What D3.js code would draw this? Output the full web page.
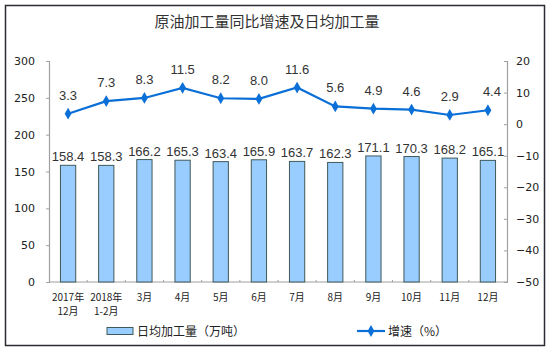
<!DOCTYPE html>
<html>
<head>
<meta charset="utf-8">
<script src="https://cdn.jsdelivr.net/npm/d3@7"></script>
<style>
  html, body { margin: 0; padding: 0; background: #fff; }
  text { font-family: "Liberation Sans", Arial, "Noto Sans CJK SC", sans-serif; }
</style>
</head>
<body>
<div id="chart"></div>
<script>
// --- Data ---
const categories = ['2017年|12月', '2018年|1-2月', '3月', '4月', '5月', '6月', '7月', '8月', '9月', '10月', '11月', '12月'];
const dailyOutput = [158.4, 158.3, 166.2, 165.3, 163.4, 165.9, 163.7, 162.3, 171.1, 170.3, 168.2, 165.1];
const growthRate = [3.3, 7.3, 8.3, 11.5, 8.2, 8.0, 11.6, 5.6, 4.9, 4.6, 2.9, 4.4];
const leftTicks = [0, 50, 100, 150, 200, 250, 300];
const rightTicks = [-50, -40, -30, -20, -10, 0, 10, 20];

const width = 550, height = 351;
const plot = { left: 49, right: 507, top: 61, bottom: 282 };
const cjk = '"Noto Sans CJK SC", sans-serif';

const svg = d3.select('#chart').append('svg')
  .attr('width', width)
  .attr('height', height);

// frame
svg.append('rect')
  .attr('x', 5.5).attr('y', 5.5)
  .attr('width', 539).attr('height', 340)
  .attr('fill', '#fff')
  .attr('stroke', '#2e2a33')
  .attr('stroke-width', 1.5);

// title
svg.append('text')
  .attr('x', 267).attr('y', 27)
  .attr('text-anchor', 'middle')
  .style('font-family', cjk)
  .style('font-size', '15px')
  .style('fill', '#333')
  .text('原油加工量同比增速及日均加工量');

// --- Scales ---
const x = d3.scaleBand()
  .domain(categories)
  .range([plot.left, plot.right])
  .paddingInner(0.6)
  .paddingOuter(0.3);

const yLeft = d3.scaleLinear().domain([0, 300]).range([plot.bottom, plot.top]);
const yRight = d3.scaleLinear().domain([-50, 20]).range([plot.bottom, plot.top]);

const axisColor = '#a0a0a0';

// --- Axes ---
const gLeft = svg.append('g')
  .attr('transform', `translate(${plot.left},0)`)
  .call(d3.axisLeft(yLeft).tickValues(leftTicks).tickSize(3).tickPadding(11));
const gRight = svg.append('g')
  .attr('transform', `translate(${plot.right},0)`)
  .call(d3.axisRight(yRight).tickValues(rightTicks).tickSize(-3).tickPadding(9));

[gLeft, gRight].forEach(g => {
  g.select('.domain').attr('stroke', axisColor).attr('stroke-width', 1.2);
  g.selectAll('.tick line').attr('stroke', axisColor);
  g.selectAll('.tick text')
    .style('font-size', '11px')
    .style('font-family', '"DejaVu Sans", sans-serif')
    .style('fill', '#222');
});

// x axis line + small boundary ticks
svg.append('line')
  .attr('x1', plot.left).attr('x2', plot.right)
  .attr('y1', plot.bottom).attr('y2', plot.bottom)
  .attr('stroke', axisColor).attr('stroke-width', 1.2);

svg.append('g').selectAll('line')
  .data(categories.slice(1))
  .enter().append('line')
  .attr('x1', d => x(d) - x.bandwidth() * 0.75)
  .attr('x2', d => x(d) - x.bandwidth() * 0.75)
  .attr('y1', plot.bottom)
  .attr('y2', plot.bottom - 2)
  .attr('stroke', axisColor);

// x labels (two-line ones split on '|')
const xLabels = svg.append('g').selectAll('text')
  .data(categories)
  .enter().append('text')
  .attr('x', d => x(d) + x.bandwidth() / 2)
  .attr('y', 301)
  .attr('text-anchor', 'middle')
  .style('font-family', cjk)
  .style('font-size', '10px')
  .style('fill', '#222');
xLabels.each(function(d) {
  const t = d3.select(this);
  d.split('|').forEach((p, i) => {
    t.append('tspan')
      .attr('x', x(d) + x.bandwidth() / 2)
      .attr('dy', i === 0 ? 0 : 14)
      .text(p);
  });
});

// --- Bars ---
svg.append('g').selectAll('rect')
  .data(dailyOutput)
  .enter().append('rect')
  .attr('x', (d, i) => x(categories[i]))
  .attr('y', d => yLeft(d))
  .attr('width', x.bandwidth())
  .attr('height', d => yLeft(0) - yLeft(d))
  .attr('fill', '#99ccff')
  .attr('stroke', '#3f5a5a')
  .attr('stroke-width', 1);

svg.append('g').selectAll('text')
  .data(dailyOutput)
  .enter().append('text')
  .attr('x', (d, i) => x(categories[i]) + x.bandwidth() / 2)
  .attr('y', d => yLeft(d) - 4)
  .attr('text-anchor', 'middle')
  .style('font-size', '13px')
  .style('fill', '#333')
  .text(d => d.toFixed(1));

// --- Line ---
const line = d3.line()
  .x((d, i) => x(categories[i]) + x.bandwidth() / 2)
  .y(d => yRight(d));

svg.append('path')
  .datum(growthRate)
  .attr('d', line)
  .attr('fill', 'none')
  .attr('stroke', '#0a6fd6')
  .attr('stroke-width', 2.2);

const diamond = d3.symbol().type(d3.symbolDiamond).size(40);
svg.append('g').selectAll('path')
  .data(growthRate)
  .enter().append('path')
  .attr('d', diamond)
  .attr('transform', (d, i) => `translate(${x(categories[i]) + x.bandwidth() / 2},${yRight(d)})`)
  .attr('fill', '#0a6fd6');

svg.append('g').selectAll('text')
  .data(growthRate)
  .enter().append('text')
  .attr('x', (d, i) => x(categories[i]) + x.bandwidth() / 2 + (i === growthRate.length - 1 ? 4 : 0))
  .attr('y', d => yRight(d) - 14)
  .attr('text-anchor', 'middle')
  .style('font-size', '13px')
  .style('fill', '#333')
  .text(d => d.toFixed(1));

// --- Legend ---
const legendY = 331;
svg.append('rect')
  .attr('x', 107).attr('y', legendY - 3.5)
  .attr('width', 26).attr('height', 7)
  .attr('fill', '#99ccff')
  .attr('stroke', '#3f5a5a');
svg.append('text')
  .attr('x', 137).attr('y', legendY + 4.5)
  .style('font-family', cjk)
  .style('font-size', '12px')
  .style('fill', '#222')
  .text('日均加工量（万吨）');

svg.append('line')
  .attr('x1', 357).attr('x2', 385)
  .attr('y1', legendY).attr('y2', legendY)
  .attr('stroke', '#0a6fd6').attr('stroke-width', 2.2);
svg.append('path')
  .attr('d', diamond)
  .attr('transform', `translate(371,${legendY})`)
  .attr('fill', '#0a6fd6');
svg.append('text')
  .attr('x', 388).attr('y', legendY + 4.5)
  .style('font-family', cjk)
  .style('font-size', '12px')
  .style('fill', '#222')
  .text('增速（%）');
</script>
</body>
</html>
